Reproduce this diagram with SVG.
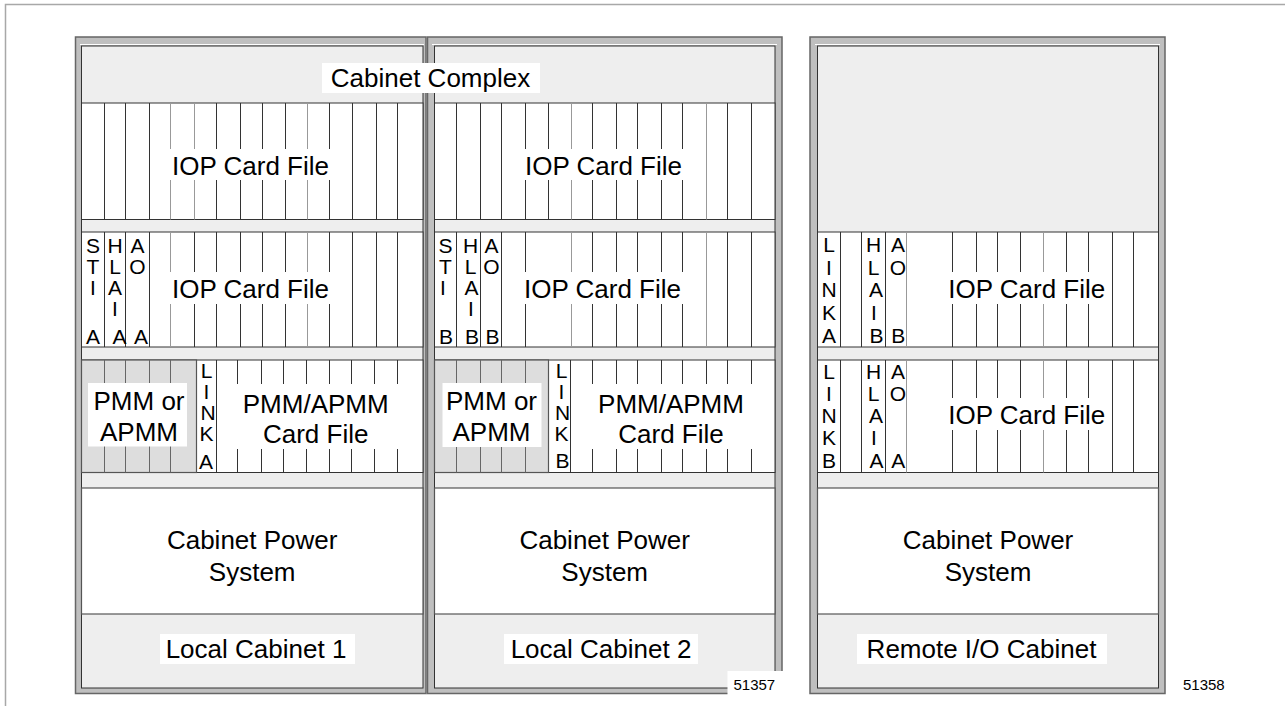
<svg xmlns="http://www.w3.org/2000/svg" width="1285" height="719" viewBox="0 0 1285 719">
<style>
.bd{fill:none;stroke:#a8a8a8;stroke-width:1.5}
.fo{fill:#bfbfbf;stroke:#666;stroke-width:1.5}
.hl{fill:none;stroke:#fff;stroke-width:1}
.in{fill:#eeeeee;stroke:#333;stroke-width:1}
.row{fill:#fff;stroke:#333;stroke-width:1}
.pw{fill:#fff;stroke:#555;stroke-width:1.2}
.pmm{fill:#dddddd;stroke:#555;stroke-width:1.2}
.sl{fill:none;stroke:#333;stroke-width:1}
.sg{fill:none;stroke:#999;stroke-width:1}
.sp{fill:none;stroke:#666;stroke-width:1}
.bg{fill:#fff}
text{font-family:"Liberation Sans",Arial,Helvetica,sans-serif;fill:#000}
.t{font-size:26px;text-anchor:middle}
.v{font-size:21px;text-anchor:middle}
.n{font-size:15px}
</style>

<g id="page-border">
<path class="bd" d="M5.5 706V4.5H1285"/>
</g>

<g id="cabinet1">
<rect class="fo" x="75.5" y="37" width="350.5" height="656.5"/>
<path class="hl" d="M80 44.5H424"/>
<rect class="in" x="81.5" y="46" width="341.5" height="642"/>
<!-- row A -->
<rect class="row" x="81.5" y="103" width="341.5" height="116.5"/>
<path class="sl" d="M104.5 103V219.5M125.5 103V219.5M149.5 103V219.5M216.5 103V219.5M240.5 103V219.5M262.5 103V219.5M285.5 103V219.5M329.5 103V219.5M352.5 103V219.5M376.5 103V219.5M397.5 103V219.5"/>
<path class="sg" d="M170.5 103V219.5M194.5 103V219.5M307.5 103V219.5"/>
<rect class="bg" x="165" y="149" width="171" height="31"/>
<text class="t" x="250.5" y="175">IOP Card File</text>
<!-- row B -->
<rect class="row" x="81.5" y="232" width="341.5" height="115"/>
<path class="sl" d="M104.5 232V347M125.5 232V347M149.5 232V347M194.5 232V347M216.5 232V347M240.5 232V347M262.5 232V347M285.5 232V347M329.5 232V347M352.5 232V347M376.5 232V347M397.5 232V347"/>
<path class="sg" d="M170.5 232V347M307.5 232V347"/>
<rect class="bg" x="165" y="272" width="171" height="32"/>
<text class="t" x="250.5" y="297.7">IOP Card File</text>
<text class="v"><tspan x="93" y="252.5">S</tspan><tspan x="93" y="273.5">T</tspan><tspan x="93" y="294.5">I</tspan><tspan x="93" y="344">A</tspan></text>
<text class="v"><tspan x="115" y="252.5">H</tspan><tspan x="115" y="273.5">L</tspan><tspan x="115" y="294.5">A</tspan><tspan x="115" y="315.5">I</tspan><tspan x="119.5" y="344">A</tspan></text>
<text class="v"><tspan x="137.5" y="252.5">A</tspan><tspan x="137.5" y="273.5">O</tspan><tspan x="141" y="344">A</tspan></text>
<!-- row C -->
<rect class="row" x="81.5" y="360" width="341.5" height="112.5"/>
<rect class="pmm" x="81.5" y="360" width="115" height="112.5"/>
<path class="sp" d="M104.5 360V472.5M125.5 360V472.5M149.5 360V472.5M170.5 360V472.5"/>
<path class="sl" d="M216.5 360V472.5M237.5 360V472.5M261.5 360V472.5M283.5 360V472.5M306.5 360V472.5M329.5 360V472.5M351.5 360V472.5M374.5 360V472.5M397.5 360V472.5"/>
<rect class="bg" x="88" y="383" width="99" height="63.5"/>
<text class="t" x="139" y="410.3">PMM or</text>
<text class="t" x="139" y="441.3">APMM</text>
<rect class="bg" x="230" y="384" width="171" height="65"/>
<text class="t" x="315.7" y="412.7">PMM/APMM</text>
<text class="t" x="315.7" y="442.7">Card File</text>
<text class="v"><tspan x="206.5" y="377.5">L</tspan><tspan x="206.5" y="398.5">I</tspan><tspan x="208" y="419.5">N</tspan><tspan x="206.5" y="440.5">K</tspan><tspan x="206" y="468.5">A</tspan></text>
<!-- power -->
<rect class="pw" x="81.5" y="488" width="341.5" height="126"/>
<text class="t" x="252.2" y="549">Cabinet Power</text>
<text class="t" x="252.2" y="580.7">System</text>
<rect class="bg" x="160" y="634" width="195" height="30"/>
<text class="t" x="256" y="658.3">Local Cabinet 1</text>
</g>

<g id="cabinet2">
<rect class="fo" x="427.5" y="37" width="354.5" height="656.5"/>
<path class="hl" d="M432 44.5H777"/>
<rect class="in" x="434.5" y="46" width="340.5" height="642"/>
<!-- row A -->
<rect class="row" x="434.5" y="103" width="340.5" height="116.5"/>
<path class="sl" d="M456.5 103V219.5M480.5 103V219.5M501.5 103V219.5M525.5 103V219.5M548.5 103V219.5M592.5 103V219.5M616.5 103V219.5M637.5 103V219.5M661.5 103V219.5M682.5 103V219.5M727.5 103V219.5M751.5 103V219.5"/>
<path class="sg" d="M571.5 103V219.5M706.5 103V219.5"/>
<rect class="bg" x="519" y="149" width="169" height="31"/>
<text class="t" x="603.5" y="175">IOP Card File</text>
<!-- row B -->
<rect class="row" x="434.5" y="232" width="340.5" height="115"/>
<path class="sl" d="M456.5 232V347M480.5 232V347M501.5 232V347M525.5 232V347M592.5 232V347M616.5 232V347M637.5 232V347M661.5 232V347M682.5 232V347M727.5 232V347M751.5 232V347"/>
<path class="sg" d="M571.5 232V347M706.5 232V347"/>
<rect class="bg" x="519" y="272" width="169" height="32"/>
<text class="t" x="602.5" y="297.7">IOP Card File</text>
<text class="v"><tspan x="445.5" y="252.5">S</tspan><tspan x="445.5" y="273.5">T</tspan><tspan x="443" y="294.5">I</tspan><tspan x="446" y="344">B</tspan></text>
<text class="v"><tspan x="470.5" y="252.5">H</tspan><tspan x="470.5" y="273.5">L</tspan><tspan x="471.5" y="294.5">A</tspan><tspan x="471" y="315.5">I</tspan><tspan x="472" y="344">B</tspan></text>
<text class="v"><tspan x="491.5" y="252.5">A</tspan><tspan x="491.5" y="273.5">O</tspan><tspan x="492.5" y="344">B</tspan></text>
<!-- row C -->
<rect class="row" x="434.5" y="360" width="340.5" height="112.5"/>
<rect class="pmm" x="434.5" y="360" width="114" height="112.5"/>
<path class="sp" d="M456.5 360V472.5M480.5 360V472.5M501.5 360V472.5M525.5 360V472.5"/>
<path class="sl" d="M570.5 360V472.5M592.5 360V472.5M616.5 360V472.5M637.5 360V472.5M661.5 360V472.5M682.5 360V472.5M706.5 360V472.5M727.5 360V472.5M751.5 360V472.5"/>
<rect class="bg" x="442.5" y="383" width="99" height="64"/>
<text class="t" x="491.5" y="410.3">PMM or</text>
<text class="t" x="491.5" y="441.3">APMM</text>
<rect class="bg" x="587" y="384" width="169" height="65"/>
<text class="t" x="671" y="412.7">PMM/APMM</text>
<text class="t" x="671" y="442.7">Card File</text>
<text class="v"><tspan x="561.5" y="378">L</tspan><tspan x="561.5" y="399">I</tspan><tspan x="562.5" y="420">N</tspan><tspan x="561.5" y="441">K</tspan><tspan x="562.5" y="468.3">B</tspan></text>
<!-- power -->
<rect class="pw" x="434.5" y="488" width="340.5" height="126"/>
<text class="t" x="604.7" y="549">Cabinet Power</text>
<text class="t" x="604.7" y="580.7">System</text>
<rect class="bg" x="504" y="634" width="194" height="30"/>
<text class="t" x="601" y="658.3">Local Cabinet 2</text>
</g>

<g id="cabinet-complex-label">
<rect class="bg" x="322" y="63" width="218" height="30"/>
<text class="t" x="430.5" y="87.3">Cabinet Complex</text>
</g>

<g id="remote-cabinet">
<rect class="fo" x="810" y="37" width="355" height="656.5"/>
<path class="hl" d="M815 44.5H1160"/>
<rect class="in" x="817.5" y="46" width="341" height="642"/>
<!-- row B -->
<rect class="row" x="817.5" y="232" width="341" height="115"/>
<path class="sl" d="M840.5 232V347M861.5 232V347M885.5 232V347M952.5 232V347M976.5 232V347M997.5 232V347M1020.5 232V347M1066.5 232V347M1088.5 232V347M1112.5 232V347M1133.5 232V347"/>
<path class="sg" d="M906.5 232V347M1043.5 232V347"/>
<rect class="bg" x="944" y="272" width="166" height="32"/>
<text class="t" x="1026.7" y="297.7">IOP Card File</text>
<text class="v"><tspan x="829" y="252.3">L</tspan><tspan x="829" y="274.5">I</tspan><tspan x="829" y="297">N</tspan><tspan x="829" y="319.5">K</tspan><tspan x="829" y="342.7">A</tspan></text>
<text class="v"><tspan x="873.5" y="252.3">H</tspan><tspan x="873.5" y="274.5">L</tspan><tspan x="876" y="297">A</tspan><tspan x="874" y="319.5">I</tspan><tspan x="876.5" y="342.7">B</tspan></text>
<text class="v"><tspan x="898" y="252.3">A</tspan><tspan x="898" y="274.5">O</tspan><tspan x="898.3" y="342.7">B</tspan></text>
<!-- row C -->
<rect class="row" x="817.5" y="360" width="341" height="112.5"/>
<path class="sl" d="M840.5 360V472.5M861.5 360V472.5M885.5 360V472.5M952.5 360V472.5M976.5 360V472.5M997.5 360V472.5M1020.5 360V472.5M1066.5 360V472.5M1088.5 360V472.5M1112.5 360V472.5M1133.5 360V472.5"/>
<path class="sg" d="M906.5 360V472.5M1043.5 360V472.5"/>
<rect class="bg" x="944" y="398" width="166" height="32"/>
<text class="t" x="1026.7" y="424">IOP Card File</text>
<text class="v"><tspan x="829" y="379.3">L</tspan><tspan x="829" y="401.3">I</tspan><tspan x="829" y="423.3">N</tspan><tspan x="829" y="445.3">K</tspan><tspan x="829" y="468.3">B</tspan></text>
<text class="v"><tspan x="873.5" y="379.3">H</tspan><tspan x="873.5" y="401.3">L</tspan><tspan x="876" y="423.3">A</tspan><tspan x="874" y="445.3">I</tspan><tspan x="876.5" y="468.3">A</tspan></text>
<text class="v"><tspan x="898" y="379.3">A</tspan><tspan x="898" y="401.3">O</tspan><tspan x="898.3" y="468.3">A</tspan></text>
<!-- power -->
<rect class="pw" x="817.5" y="488" width="341" height="126"/>
<text class="t" x="988" y="549">Cabinet Power</text>
<text class="t" x="988" y="580.7">System</text>
<rect class="bg" x="857" y="634" width="250" height="30"/>
<text class="t" x="981.5" y="658.3">Remote I/O Cabinet</text>
</g>

<g id="figure-numbers">
<rect class="bg" x="727.5" y="671" width="56" height="27"/>
<text class="n" x="733.5" y="690">51357</text>
<text class="n" x="1183" y="690">51358</text>
</g>
</svg>
